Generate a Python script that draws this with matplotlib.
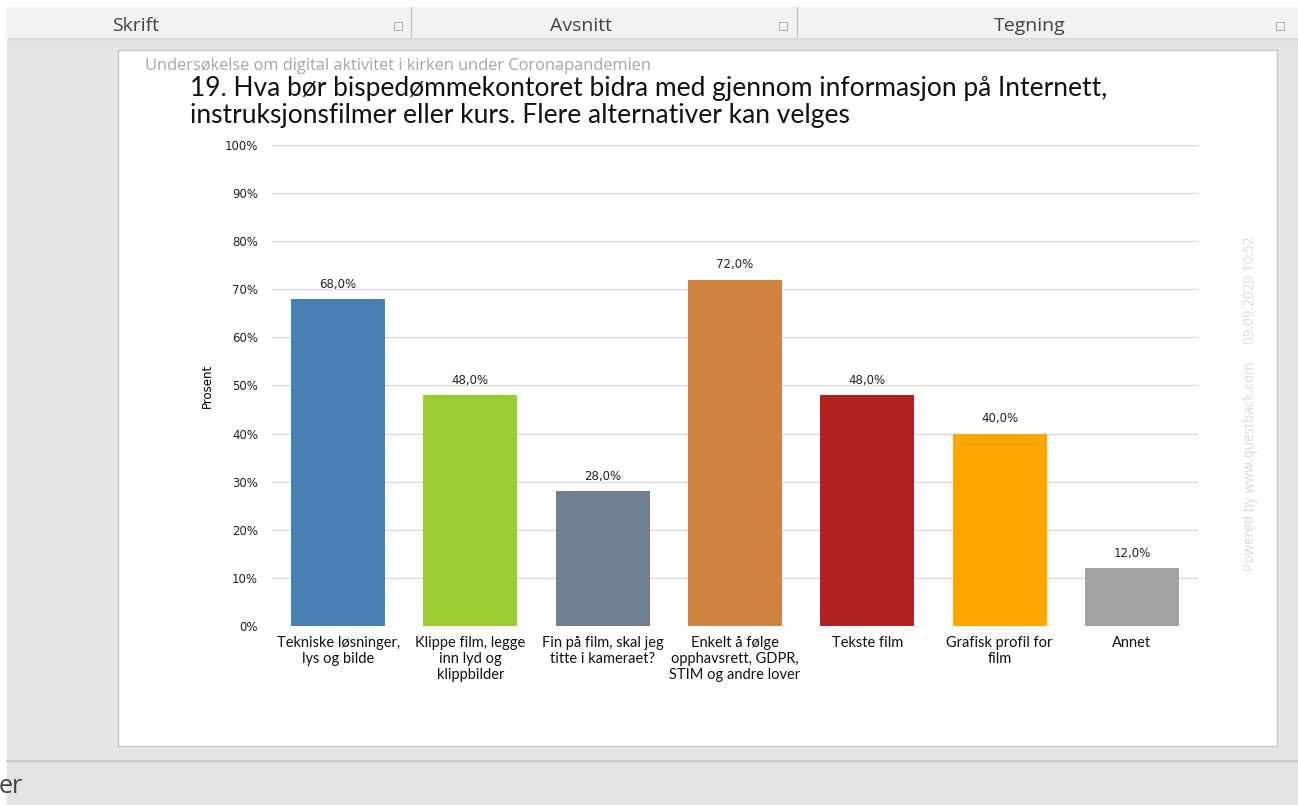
import numpy as np
import matplotlib.pyplot as plt
from matplotlib.patches import Rectangle
from matplotlib.colors import LinearSegmentedColormap

# chart data
categories = [
    "Tekniske løsninger,\nlys og bilde",
    "Klippe film, legge\ninn lyd og\nklippbilder",
    "Fin på film, skal jeg\ntitte i kameraet?",
    "Enkelt å følge\nopphavsrett, GDPR,\nSTIM og andre lover",
    "Tekste film",
    "Grafisk profil for\nfilm",
    "Annet",
]
values = [68.0, 48.0, 28.0, 72.0, 48.0, 40.0, 12.0]
bar_colors = ["#4682b4", "#9acd32", "#708090", "#cd853f", "#b22222", "#ffa500", "#a3a3a3"]
yticks = list(range(0, 101, 10))

title = ("19. Hva bør bispedømmekontoret bidra med gjennom informasjon på Internett,\n"
         "instruksjonsfilmer eller kurs. Flere alternativer kan velges")
subtitle = "Undersøkelse om digital aktivitet i kirken under Coronapandemien"
watermark = "Powered by www.questback.com     09.09.2020 10:52"
ribbon_groups = ["Skrift", "Avsnitt", "Tegning"]

W, H = 1298, 805
fig = plt.figure(figsize=(W / 100, H / 100), dpi=100)
fig.patch.set_facecolor("white")

# background layer in pixel coordinates (screenshot chrome)
bg = fig.add_axes([0, 0, 1, 1])
bg.set_xlim(0, W)
bg.set_ylim(H, 0)
bg.axis("off")

bg.add_patch(Rectangle((7, 7), W, 31, facecolor="#f3f2f1", edgecolor="none"))
grad = np.linspace(0, 1, 20).reshape(-1, 1)
bg.imshow(grad, extent=(7, W, 46, 38), cmap=LinearSegmentedColormap.from_list(
    "g", ["#dcdcdc", "#e6e6e6"]), aspect="auto", zorder=1)
bg.add_patch(Rectangle((7, 46), W, 714, facecolor="#e6e6e6", edgecolor="none"))
bg.plot([7, W], [761, 761], color="#c8c8c8", lw=1.5)
bg.add_patch(Rectangle((7, 762), W, 43, facecolor="#e4e4e4", edgecolor="none"))
bg.text(-1, 786, "er", fontsize=18, color="#444444", family="Open Sans", va="center", ha="left")

for sx in [411, 797]:
    bg.plot([sx, sx], [7, 38], color="#c8c8c8", lw=1)
for name, cx in zip(ribbon_groups, [136, 581, 1030]):
    bg.text(cx, 26, name, fontsize=14, color="#444444", family="Open Sans", ha="center", va="center")
for ix in [398, 783, 1280]:
    bg.add_patch(Rectangle((ix - 4, 22), 8, 8, facecolor="none", edgecolor="#b8b8b8", lw=0.8))

# white chart panel
bg.add_patch(Rectangle((118, 50), 1159, 696, facecolor="white", edgecolor="#c6c6c6", lw=1))
bg.text(145, 66, subtitle, fontsize=11.8, color="#a6a6a6", family="Open Sans", va="center", ha="left")
bg.text(190, 102, title, fontsize=19, color="#111111", family="Lato", va="center", ha="left",
        linespacing=1.1)
bg.text(1250, 404, watermark, fontsize=9.8, color="#d3dde2", family="Open Sans",
        rotation=90, ha="center", va="center")

# bar chart
ax = fig.add_axes([272 / W, (H - 626) / H, 926 / W, 481 / H])
x = np.arange(len(values))
bars = ax.bar(x, values, width=0.71, color=bar_colors, zorder=3)
for b, v in zip(bars, values):
    ax.annotate(f"{v:.1f}%".replace(".", ","), (b.get_x() + b.get_width() / 2, v),
                xytext=(0, 6), textcoords="offset points", ha="center", va="bottom",
                fontsize=8.5, family="DejaVu Sans", color="#222222")

ax.set_xlim(-0.5, len(values) - 0.5)
ax.set_ylim(0, 100)
ax.set_yticks(yticks)
ax.set_yticklabels([f"{t}%" for t in yticks], fontsize=8.5, family="DejaVu Sans", color="#222222")
ax.set_xticks(x)
ax.set_xticklabels(categories, fontsize=10.5, family="Lato", color="#111111", linespacing=1.2,
                   va="top")
ax.tick_params(axis="both", length=0, pad=10)
ax.tick_params(axis="x", pad=7)
ax.grid(axis="y", color="#d9d9d9", lw=0.9, zorder=0)
for s in ax.spines.values():
    s.set_visible(False)
ax.set_ylabel("Prosent", fontsize=8.5, family="DejaVu Sans", labelpad=8)
ax.set_facecolor("none")

fig.savefig("out.png", dpi=100)
